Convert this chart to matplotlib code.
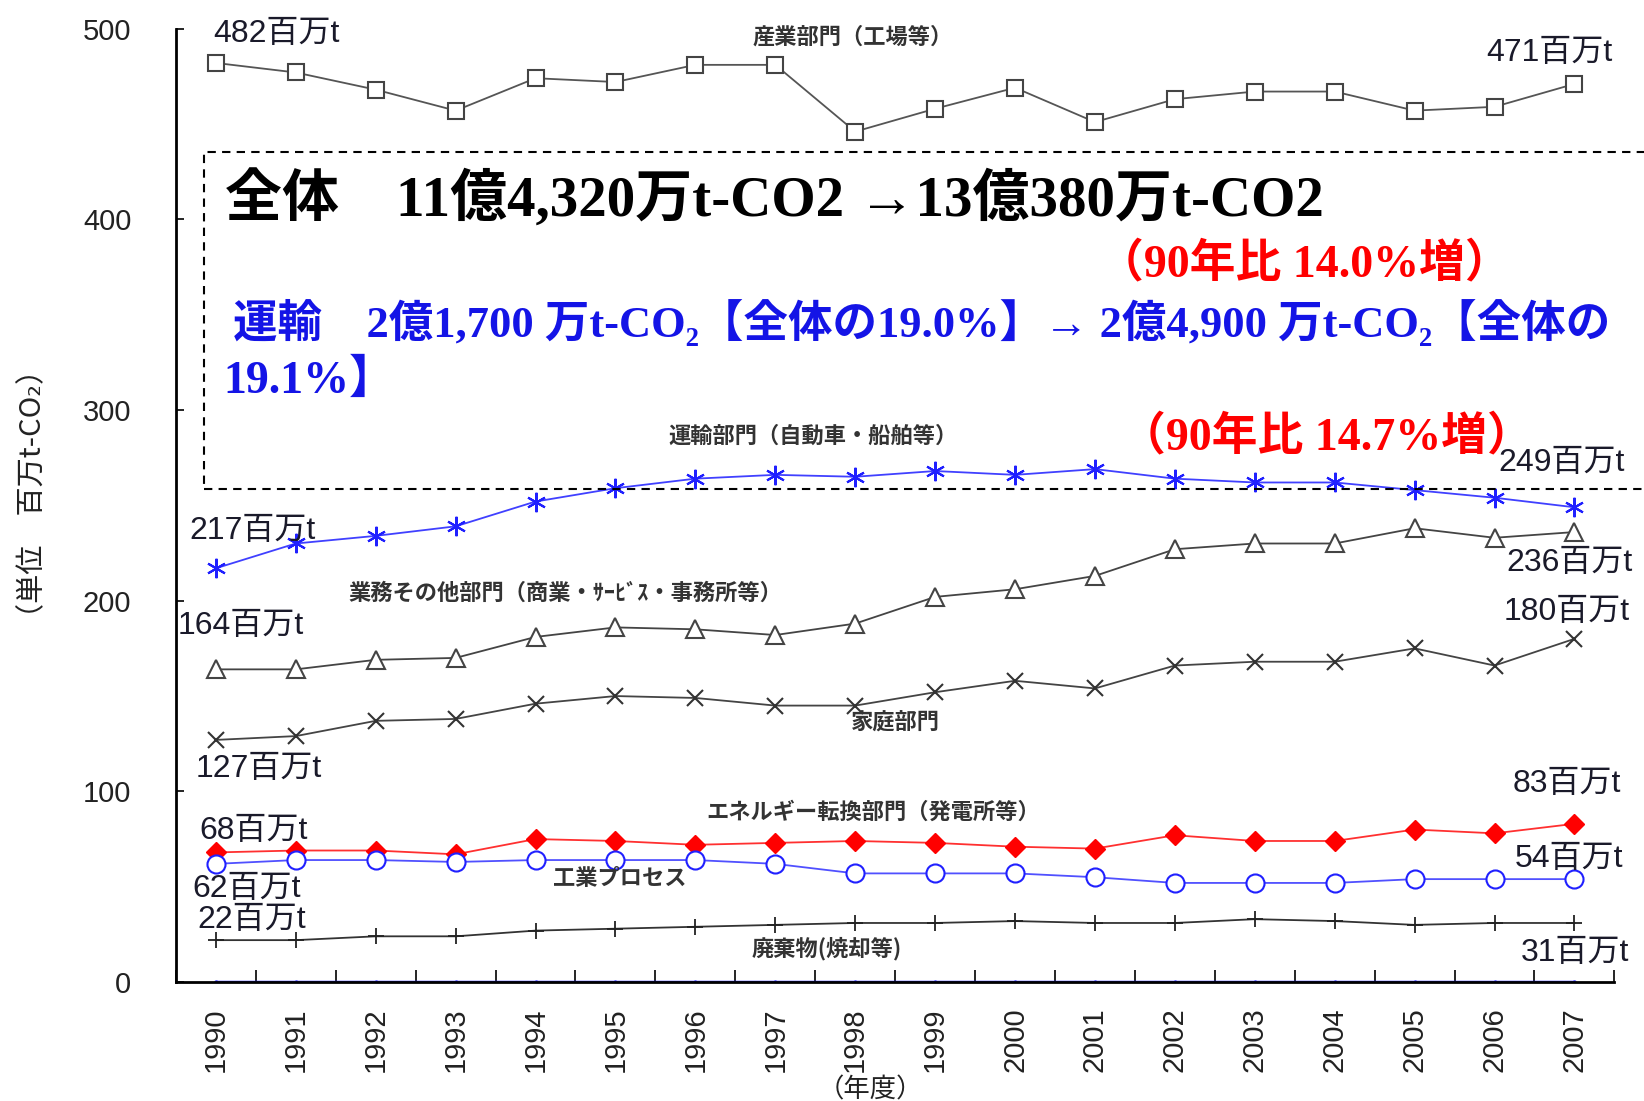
import matplotlib.pyplot as plt
from matplotlib.patches import Rectangle

years = list(range(1990, 2008))

industry = [482, 477, 468, 457, 474, 472, 481, 481, 446, 458, 469, 451, 463, 467, 467, 457, 459, 471]
transport = [217, 230, 234, 239, 252, 259, 264, 266, 265, 268, 266, 269, 264, 262, 262, 258, 254, 249]
commercial = [164, 164, 169, 170, 181, 186, 185, 182, 188, 202, 206, 213, 227, 230, 230, 238, 233, 236]
household = [127, 129, 137, 138, 146, 150, 149, 145, 145, 152, 158, 154, 166, 168, 168, 175, 166, 180]
energy = [68, 69, 69, 67, 75, 74, 72, 73, 74, 73, 71, 70, 77, 74, 74, 80, 78, 83]
process = [62, 64, 64, 63, 64, 64, 64, 62, 57, 57, 57, 55, 52, 52, 52, 54, 54, 54]
waste = [22, 22, 24, 24, 27, 28, 29, 30, 31, 31, 32, 31, 31, 33, 32, 30, 31, 31]
other = [0] * len(years)

sector_names = ["産業部門（工場等）", "運輸部門（自動車・船舶等）",
                "業務その他部門（商業・ｻｰﾋﾞｽ・事務所等）", "家庭部門",
                "エネルギー転換部門（発電所等）", "工業プロセス", "廃棄物(焼却等)"]

SANS = ["Liberation Sans", "Noto Sans CJK JP", "DejaVu Sans"]
BIG = ["Liberation Serif", "Noto Sans CJK JP", "DejaVu Sans"]
plt.rcParams["font.family"] = SANS

fig = plt.figure(figsize=(16.44, 11.01), dpi=100)
ax = fig.add_axes([0.107, 0.108, 0.875, 0.866])

ax.plot(years, industry, color="#555555", lw=1.3, marker="s", ms=12,
        mfc="white", mec="#444444", mew=1.5)
ax.plot(years, transport, color="#4040ff", lw=1.3, marker=(6, 2, 0), ms=14,
        mec="#2020ff", mew=1.5)
ax.plot(years, commercial, color="#444444", lw=1.3, marker="^", ms=13,
        mfc="white", mec="#444444", mew=1.5)
ax.plot(years, household, color="#444444", lw=1.3, marker="x", ms=12,
        mec="#333333", mew=1.5)
ax.plot(years, energy, color="#ff3030", lw=1.3, marker="D", ms=10,
        mfc="#ff0000", mec="#ff0000")
ax.plot(years, process, color="#5050ff", lw=1.3, marker="o", ms=13,
        mfc="white", mec="#2020ff", mew=1.5)
ax.plot(years, waste, color="#333333", lw=1.3, marker="+", ms=12,
        mec="#222222", mew=1.3)
ax.plot(years, other, color="#2020ff", lw=2.5, marker="o", ms=2)

ax.set_xlim(1989.5, 2007.5)
ax.set_ylim(0, 500)
ax.spines["top"].set_visible(False)
ax.spines["right"].set_visible(False)
ax.spines["left"].set_linewidth(2)
ax.spines["bottom"].set_linewidth(2)

ax.set_xticks(years)
ax.set_xticklabels([str(y) for y in years], rotation=90, fontsize=21, color="#222222")
ax.set_xticks([y - 0.5 for y in years] + [2007.5], minor=True)
ax.tick_params(axis="x", which="major", length=0, pad=18)
ax.tick_params(axis="x", which="minor", direction="in", length=9, width=1.2)
ax.set_yticks([0, 100, 200, 300, 400, 500])
ax.tick_params(axis="y", direction="in", length=6, width=1.2, labelsize=21,
               labelcolor="#222222", pad=32)

ax.set_ylabel("（単位　百万t-CO₂）", fontsize=21, color="#222222",
              family=["Noto Sans CJK JP", "DejaVu Sans"])
ax.yaxis.set_label_coords(-0.089, 0.513)
ax.set_xlabel("（年度）", fontsize=19, color="#222222",
              family=["Noto Sans CJK JP", "DejaVu Sans"])
ax.xaxis.set_label_coords(0.4825, -0.099)

# value labels at start / end points
def vlabel(x, v, dx, dy):
    ax.annotate(f"{v}百万t", (x, v), xytext=(dx, dy), textcoords="offset pixels",
                ha="center", va="center", fontsize=23, color="#1a1a2a",
                annotation_clip=False)

vlabel(1990, industry[0], 61, 29)
vlabel(2007, industry[-1], -25, 31)
vlabel(1990, transport[0], 37, 37)
vlabel(2007, transport[-1], -13, 44)
vlabel(2007, commercial[-1], -5, -31)
vlabel(1990, commercial[0], 25, 43)
vlabel(2007, household[-1], -8, 27)
vlabel(1990, household[0], 43, -29)
vlabel(2007, energy[-1], -8, 40)
vlabel(1990, energy[0], 38, 21)
vlabel(2007, process[-1], -5, 20)
vlabel(1990, process[0], 31, -25)
vlabel(1990, waste[0], 36, 20)
vlabel(2007, waste[-1], 1, -30)

# sector names
name_pos = [(1997.97, 495.6), (1997.47, 286), (1994.37, 204), (1998.5, 136),
            (1998.23, 89), (1995.05, 54.4), (1997.64, 17.6)]
for name, (nx, ny) in zip(sector_names, name_pos):
    ax.text(nx, ny, name, ha="center", va="center", fontsize=16, color="#333333",
            family=["Noto Sans CJK JP", "DejaVu Sans"], fontweight="bold")

# dashed summary box
fig.patches.append(Rectangle((0.124, 0.556), 0.9, 0.306, transform=fig.transFigure,
                             fill=False, ls=(0, (4, 3)), lw=1.5, ec="black"))

fig.text(0.137, 0.819, "全体　11億4,320万t-CO2 →13億380万t-CO2", fontsize=41,
         fontweight="bold", family=BIG, va="center", color="black")
fig.text(0.668, 0.760, "（90年比 14.0%増）", fontsize=33, fontweight="bold",
         family=BIG, va="center", color="#ff0000")
fig.text(0.1416, 0.7067, "運輸　2億1,700 万t-CO₂【全体の19.0%】→ 2億4,900 万t-CO₂【全体の",
         fontsize=32, fontweight="bold", family=BIG, va="center", color="#1414e6")
fig.text(0.136, 0.654, "19.1%】", fontsize=33, fontweight="bold", family=BIG,
         va="center", color="#1414e6")
fig.text(0.681, 0.603, "（90年比 14.7%増）", fontsize=33, fontweight="bold",
         family=BIG, va="center", color="#ff0000")

fig.savefig("out.png", dpi=100)
